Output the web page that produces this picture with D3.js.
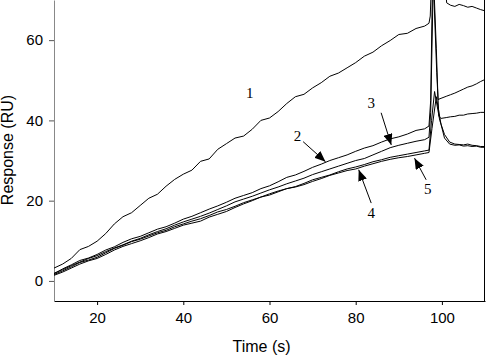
<!DOCTYPE html>
<html>
<head>
<meta charset="utf-8">
<script src="https://cdn.jsdelivr.net/npm/d3@7"></script>
<style>
  body { margin: 0; background: #fff; }
  svg { display: block; }
  .tick text { font-family: Arial, "Liberation Sans", sans-serif; font-size: 15px; fill: #000; }
</style>
</head>
<body>
<script>
// sensorgram curves, [time (s), response (RU)]
const curve1 = [[10,3.2],[12,4.2],[14,5.6],[16,7.8],[18,8.6],[20,9.9],[22,11.8],[24,14.2],[26,16.0],[28,17.0],
  [30,18.8],[32,20.6],[34,21.6],[36,23.6],[38,25.3],[40,26.6],[42,27.6],[44,29.8],[46,30.4],[48,32.8],
  [50,34.2],[52,35.6],[54,36.1],[56,37.8],[58,40.0],[60,40.6],[62,42.2],[64,44.2],[66,45.9],[68,46.5],
  [70,48.1],[72,49.4],[74,51.0],[76,51.8],[78,53.1],[80,54.4],[82,56.0],[84,57.0],[86,58.6],[88,59.9],
  [90,61.4],[92,61.7],[94,62.9],[96,63.5],[97,64.2],[97.3,66],[97.8,82],[100.4,80],[101.1,69.3],
  [102,68.7],[103,68.4],[104,68.9],[105,68.6],[106,68.2],[107,68.4],[108,68.0],[109,67.6],[110,67.3]];

const curve2 = [[10,1.8],[12,3.0],[14,4.0],[16,5.1],[18,5.7],[20,6.6],[22,7.7],[24,8.5],[26,9.6],[28,10.5],
  [30,11.1],[32,12.0],[34,12.9],[36,13.5],[38,14.4],[40,15.4],[42,16.1],[44,17.0],[46,17.9],[48,18.7],
  [50,19.6],[52,20.6],[54,21.3],[56,22.0],[58,23.0],[60,23.7],[62,24.7],[64,25.8],[66,26.4],[68,27.3],
  [70,28.3],[72,29.1],[74,30.0],[76,30.7],[78,31.4],[80,32.3],[82,33.1],[84,33.7],[86,34.6],[88,35.4],
  [90,35.9],[92,36.6],[94,37.5],[96,37.9],[97,38.6],[97.4,45],[97.9,80],[98.7,58],[99.1,45.2],[99.8,45.5],
  [101,46.0],[102,46.4],[103,46.8],[104,47.3],[105,47.8],[106,48.3],[107,48.6],[108,49.1],[109,49.7],[110,50.2]];

const curve3 = [[10,1.9],[12,2.8],[14,3.8],[16,4.7],[18,5.6],[20,6.3],[22,7.3],[24,8.2],[26,9.0],[28,9.9],
  [30,10.6],[32,11.5],[34,12.3],[36,13.0],[38,13.9],[40,14.7],[42,15.4],[44,16.1],[46,16.9],[48,17.8],
  [50,18.7],[52,19.7],[54,20.4],[56,21.1],[58,21.9],[60,22.7],[62,23.4],[64,24.2],[66,24.9],[68,25.6],
  [70,26.5],[72,27.2],[74,27.9],[76,28.6],[78,29.3],[80,30.0],[82,30.5],[84,31.4],[86,32.3],[88,33.2],
  [90,33.8],[92,34.3],[94,34.8],[96,35.2],[97,35.8],[97.4,42],[98.0,75],[98.8,52],[99.3,41],[99.8,40.5],
  [101,40.7],[102,40.9],[103,41.0],[104,41.3],[105,41.3],[106,41.6],[107,41.7],[108,41.8],[109,42.0],[110,42.0]];

const curve4 = [[10,1.6],[12,2.5],[14,3.5],[16,4.6],[18,5.2],[20,5.9],[22,7.0],[24,8.1],[26,8.9],[28,9.8],
  [30,10.4],[32,11.2],[34,12.0],[36,12.6],[38,13.5],[40,14.2],[42,14.9],[44,15.5],[46,16.3],[48,17.2],
  [50,17.8],[52,18.6],[54,19.5],[56,20.2],[58,20.9],[60,21.7],[62,22.4],[64,23.0],[66,23.5],[68,24.3],
  [70,25.2],[72,25.8],[74,26.4],[76,27.2],[78,27.9],[80,28.4],[82,29.0],[84,29.7],[86,30.2],[88,30.8],
  [90,31.2],[92,31.6],[94,32.0],[96,32.4],[97,32.6],[97.6,40],[98.3,47.2],[99.5,40],[100.6,36.5],
  [101.8,34.6],[103,34.1],[104,34.0],[105,33.9],[106,34.1],[107,33.8],[108,33.7],[109,33.5],[110,33.5]];

const curve5 = [[10,1.4],[12,2.2],[14,3.2],[16,4.2],[18,5.0],[20,5.6],[22,6.6],[24,7.7],[26,8.6],[28,9.3],
  [30,10.0],[32,10.8],[34,11.7],[36,12.3],[38,13.1],[40,13.9],[42,14.4],[44,14.9],[46,15.9],[48,16.6],
  [50,17.3],[52,18.3],[54,19.2],[56,20.0],[58,20.9],[60,21.4],[62,22.2],[64,23.0],[66,23.4],[68,24.0],
  [70,24.8],[72,25.5],[74,26.3],[76,26.9],[78,27.5],[80,27.9],[82,28.6],[84,29.2],[86,29.8],[88,30.3],
  [90,30.7],[92,31.0],[94,31.4],[96,31.8],[97,32.0],[97.7,38],[98.7,45.9],[99.8,39],[100.6,35.6],
  [101.8,34.1],[103,33.8],[104,33.9],[105,33.6],[106,33.7],[107,33.5],[108,33.6],[109,33.3],[110,33.3]];

const xTicks = [20, 40, 60, 80, 100];
const yTicks = [0, 20, 40, 60];

// curve labels: [name, time, response] and arrows: [tailT, tailV, tipT, tipV]
const labels = [["1",55.4,46.8],["2",66.5,36.0],["3",83.6,44.3],["4",83.6,16.9],["5",96.7,22.9]];
const arrows = [[67.8,34.7,73.0,29.7],[85.9,41.9,88.25,33.9],[83.6,19.4,80.7,27.7],[96.35,25.2,93.65,30.6]];

const width = 486, height = 356;
const margin = {left: 54, right: 1, top: 0, bottom: 55};

const svg = d3.select('body').append('svg')
    .attr('width', width)
    .attr('height', height);

const x = d3.scaleLinear().domain([10, 110]).range([margin.left, width - margin.right]);
const y = d3.scaleLinear().domain([-5, 70]).range([height - margin.bottom, margin.top]);

svg.append('defs').append('clipPath').attr('id', 'plot')
  .append('rect')
    .attr('x', x(10)).attr('y', 0)
    .attr('width', x(110) - x(10)).attr('height', y(-5));

svg.append('defs').append('marker')
    .attr('id', 'head')
    .attr('viewBox', '0 0 11 9')
    .attr('refX', 11).attr('refY', 4.5)
    .attr('markerWidth', 11).attr('markerHeight', 9)
    .attr('markerUnits', 'userSpaceOnUse')
    .attr('orient', 'auto')
  .append('path')
    .attr('d', 'M0,0 L11,4.5 L0,9 Z')
    .attr('fill', '#000');

// axes
const xAxis = svg.append('g')
    .attr('transform', `translate(0,${y(-5)})`)
    .call(d3.axisBottom(x).tickValues(xTicks).tickSize(4).tickPadding(7).tickSizeOuter(0));
xAxis.select('.domain').attr('stroke', '#000');

const yAxis = svg.append('g')
    .attr('transform', `translate(${x(10)},0)`)
    .call(d3.axisLeft(y).tickValues(yTicks).tickSize(5).tickPadding(6).tickSizeOuter(0));
yAxis.select('.domain').attr('stroke', '#888');
yAxis.selectAll('.tick line').attr('stroke', '#555');

// right frame line
svg.append('line')
    .attr('x1', x(110) - 0.5).attr('x2', x(110) - 0.5)
    .attr('y1', y(70)).attr('y2', y(-5))
    .attr('stroke', '#000');

const line = d3.line().x(d => x(d[0])).y(d => y(d[1]));

svg.append('g').attr('clip-path', 'url(#plot)')
  .selectAll('path')
  .data([curve1, curve2, curve3, curve4, curve5])
  .enter().append('path')
    .attr('d', line)
    .attr('fill', 'none')
    .attr('stroke', '#000')
    .attr('stroke-width', 1);

svg.selectAll('line.arrow')
  .data(arrows)
  .enter().append('line')
    .attr('class', 'arrow')
    .attr('x1', d => x(d[0])).attr('y1', d => y(d[1]))
    .attr('x2', d => x(d[2])).attr('y2', d => y(d[3]))
    .attr('stroke', '#000')
    .attr('stroke-width', 1)
    .attr('marker-end', 'url(#head)');

svg.selectAll('text.lab')
  .data(labels)
  .enter().append('text')
    .attr('class', 'lab')
    .attr('x', d => x(d[1]))
    .attr('y', d => y(d[2]))
    .attr('text-anchor', 'middle')
    .attr('dominant-baseline', 'central')
    .style('font-family', '"Times New Roman", "Liberation Serif", serif')
    .style('font-size', '15px')
    .text(d => d[0]);

// axis titles
svg.append('text')
    .attr('x', (x(10) + x(110)) / 2 - 8)
    .attr('y', 352)
    .attr('text-anchor', 'middle')
    .style('font-family', 'Arial, "Liberation Sans", sans-serif')
    .style('font-size', '16px')
    .text('Time (s)');

svg.append('text')
    .attr('transform', `translate(13,${150}) rotate(-90)`)
    .attr('text-anchor', 'middle')
    .style('font-family', 'Arial, "Liberation Sans", sans-serif')
    .style('font-size', '16px')
    .text('Response (RU)');
</script>
</body>
</html>
